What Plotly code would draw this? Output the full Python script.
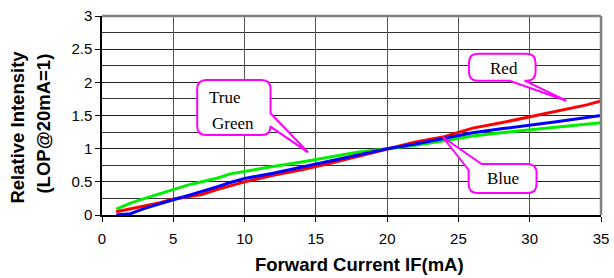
import plotly.graph_objects as go

# ---- data ----
current_mA = [1, 2, 3, 4, 5, 6, 7, 8, 9, 10, 12, 14, 16, 18, 20, 22, 24, 26, 28, 30, 32, 34, 35]
green = [0.09, 0.18, 0.25, 0.32, 0.38, 0.45, 0.50, 0.55, 0.62, 0.66, 0.73, 0.80, 0.88, 0.95, 1.00,
         1.05, 1.12, 1.19, 1.24, 1.28, 1.32, 1.37, 1.39]
red = [0.05, 0.09, 0.13, 0.18, 0.24, 0.27, 0.31, 0.38, 0.44, 0.50, 0.60, 0.68, 0.78, 0.89, 1.00,
       1.10, 1.18, 1.31, 1.39, 1.48, 1.56, 1.66, 1.72]
blue = [0.00, 0.02, 0.10, 0.17, 0.23, 0.29, 0.35, 0.42, 0.49, 0.55, 0.63, 0.72, 0.81, 0.91, 1.00,
        1.07, 1.15, 1.24, 1.30, 1.35, 1.41, 1.47, 1.50]

x_tick_step = 5
y_tick_step = 0.5
y_grid_step = 0.25

# ---- layout geometry (pixels) ----
W, H = 614, 278
PL, PR, PT, PB = 102, 601.5, 16, 215
XMAX, YMAX = 35, 3


def dx(px):
    return (px - PL) / (PR - PL) * XMAX


def dy(py):
    return (PB - py) / (PB - PT) * YMAX


def fx(px):  # pixel -> paper fraction (plot-area relative)
    return (px - PL) / (PR - PL)


def fy(py):
    return (PB - py) / (PB - PT)


def P(px, py):
    return f"{dx(px):.4f},{dy(py):.4f}"


fig = go.Figure()
fig.add_trace(go.Scatter(x=current_mA, y=green, mode="lines", line=dict(color="#00ee00", width=3), name="True Green"))
fig.add_trace(go.Scatter(x=current_mA, y=red, mode="lines", line=dict(color="#ff0000", width=3), name="Red"))
fig.add_trace(go.Scatter(x=current_mA, y=blue, mode="lines", line=dict(color="#0000ff", width=3), name="Blue"))

r = 9
# True Green callout (wedge on right edge)
L, R, T, B = 197.3, 270.7, 80, 135
path_green = (f"M{P(L+r,T)} L{P(R-r,T)} Q{P(R,T)} {P(R,T+r)} L{P(R,113.3)} L{P(308.3,152.3)} "
              f"L{P(R,126.7)} L{P(R,B-r)} Q{P(R,B)} {P(R-r,B)} L{P(L+r,B)} Q{P(L,B)} {P(L,B-r)} "
              f"L{P(L,T+r)} Q{P(L,T)} {P(L+r,T)} Z")
# Red callout (wedge on bottom edge)
L, R, T, B = 469.3, 536, 53.7, 80.7
path_red = (f"M{P(L+r,T)} L{P(R-r,T)} Q{P(R,T)} {P(R,T+r)} L{P(R,B-r)} Q{P(R,B)} {P(R-r,B)} "
            f"L{P(525,B)} L{P(566.7,100.7)} L{P(510,B)} L{P(L+r,B)} Q{P(L,B)} {P(L,B-r)} "
            f"L{P(L,T+r)} Q{P(L,T)} {P(L+r,T)} Z")
# Blue callout (wedge at top-left corner)
L, R, T, B = 469, 537, 164, 193
path_blue = (f"M{P(482,T)} L{P(R-r,T)} Q{P(R,T)} {P(R,T+r)} L{P(R,B-r)} Q{P(R,B)} {P(R-r,B)} "
             f"L{P(L+r,B)} Q{P(L,B)} {P(L,B-r)} L{P(L,170)} L{P(443,137)} Z")

shapes = []
for pth in (path_green, path_red, path_blue):
    shapes.append(dict(type="path", path=pth, xref="x", yref="y",
                       line=dict(color="#ff00ff", width=2), fillcolor="white", layer="above"))
# gray top/right frame
shapes.append(dict(type="line", xref="paper", yref="paper", x0=0, x1=1, y0=1, y1=1,
                   line=dict(color="#808080", width=2.5)))
shapes.append(dict(type="line", xref="paper", yref="paper", x0=1, x1=1, y0=0, y1=1,
                   line=dict(color="#808080", width=2.5)))

serif = "Liberation Serif, Times New Roman, serif"
sans = "Liberation Sans, Arial, sans-serif"
ann = [
    dict(x=dx(225), y=dy(97.5), text="True", xref="x", yref="y", showarrow=False,
         font=dict(family=serif, size=17, color="black")),
    dict(x=dx(233), y=dy(123), text="Green", xref="x", yref="y", showarrow=False,
         font=dict(family=serif, size=17, color="black")),
    dict(x=dx(504), y=dy(68), text="Red", xref="x", yref="y", showarrow=False,
         font=dict(family=serif, size=17, color="black")),
    dict(x=dx(503), y=dy(178), text="Blue", xref="x", yref="y", showarrow=False,
         font=dict(family=serif, size=17, color="black")),
    dict(x=fx(16.5), y=fy(127), xref="paper", yref="paper", xanchor="center", yanchor="middle",
         text="<b>Relative Intensity</b>", textangle=-90, showarrow=False,
         font=dict(family=sans, size=18.5, color="black")),
    dict(x=fx(42.5), y=fy(124), xref="paper", yref="paper", xanchor="center", yanchor="middle",
         text="<b>(LOP@20mA=1)</b>", textangle=-90, showarrow=False,
         font=dict(family=sans, size=18.5, color="black")),
    dict(x=fx(360), y=fy(264), xref="paper", yref="paper", xanchor="center", yanchor="middle",
         text="<b>Forward Current IF(mA)</b>", showarrow=False,
         font=dict(family=sans, size=18.5, color="black")),
]

fig.update_layout(
    width=W, height=H,
    margin=dict(l=PL, r=W - PR, t=PT, b=H - PB, pad=0, autoexpand=False),
    paper_bgcolor="white", plot_bgcolor="white",
    showlegend=False,
    font=dict(family=sans, size=15, color="black"),
    shapes=shapes,
    annotations=ann,
    xaxis=dict(range=[0, XMAX], tickmode="linear", tick0=0, dtick=x_tick_step,
               showgrid=True, gridcolor="#555555", gridwidth=1, ticklabelstandoff=4,
               showline=True, linecolor="black", linewidth=1.5, automargin=False,
               ticks="outside", ticklen=5, tickcolor="black", zeroline=False, fixedrange=True),
    yaxis=dict(range=[0, YMAX], tickmode="linear", tick0=0, dtick=y_tick_step,
               showgrid=True, gridcolor="#222222", gridwidth=1,
               minor=dict(dtick=y_grid_step, showgrid=True, gridcolor="#333333", gridwidth=1, ticks=""),
               showline=True, linecolor="black", linewidth=1.5, automargin=False,
               ticks="outside", ticklen=5, tickcolor="black", zeroline=False, fixedrange=True),
)

fig.write_html(
    "out.html",
    config={"displayModeBar": False},
    post_script="document.body.style.margin='0';document.body.style.padding='0';document.documentElement.style.overflow='hidden';",
)
